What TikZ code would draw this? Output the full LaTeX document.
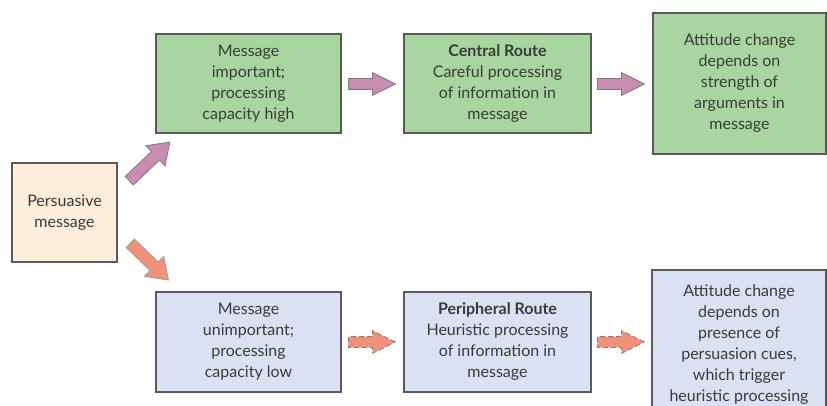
\documentclass[tikz,border=0pt]{standalone}
\usepackage{fontspec}
\setmainfont{Lato}
\usetikzlibrary{shapes.arrows}
\definecolor{boxgreen}{HTML}{A9D5A0}
\definecolor{boxblue}{HTML}{D9E1F2}
\definecolor{boxcream}{HTML}{FDEEDC}
\definecolor{arrpink}{HTML}{C98DB2}
\definecolor{arrorange}{HTML}{F2917A}
\definecolor{edgegray}{HTML}{5A5A5A}
\definecolor{txtgray}{HTML}{3A3A3A}
\tikzset{
  box/.style={draw=edgegray, line width=1.1pt, align=center, inner sep=0pt,
    text=txtgray, font=\fontsize{16pt}{21pt}\selectfont},
  greenbox/.style={box, fill=boxgreen},
  bluebox/.style={box, fill=boxblue},
  creambox/.style={box, fill=boxcream},
  barrow/.style={single arrow, draw=edgegray!80, line width=0.8pt,
    inner xsep=0pt, inner ysep=5pt, anchor=tail,
    minimum height=47pt, minimum width=22pt, single arrow head extend=6pt,
    single arrow tip angle=53},
  darrow/.style={single arrow, draw=edgegray!80, line width=0.8pt,
    inner xsep=0pt, inner ysep=5.5pt, anchor=tail,
    minimum height=56pt, minimum width=27pt, single arrow head extend=8pt,
    single arrow tip angle=70},
  pinkarrow/.style={fill=arrpink},
  orangearrow/.style={fill=arrorange, draw=gray, dashed, dash pattern=on 5pt off 3pt},
}
\begin{document}
\begin{tikzpicture}[x=1pt, y=-1pt]
\useasboundingbox (0,0) rectangle (827,406);
\fill[white] (0,0) rectangle (827,406);
\clip (0,0) rectangle (827,406);
% boxes
\node[creambox, minimum width=105pt, minimum height=99pt] (pm) at (64.5,212.5)
  {Persuasive\\message};
\node[greenbox, minimum width=185pt, minimum height=99pt] (mi) at (248.5,83.5)
  {Message\\important;\\processing\\capacity high};
\node[greenbox, minimum width=187pt, minimum height=99pt] (cr) at (497.5,83.5)
  {\textbf{Central Route}\\Careful processing\\of information in\\message};
\node[greenbox, minimum width=173pt, minimum height=141pt] (at) at (739.5,83.5)
  {Attitude change\\depends on\\strength of\\arguments in\\message};
\node[bluebox, minimum width=185pt, minimum height=100pt] (mu) at (248.5,342)
  {Message\\unimportant;\\processing\\capacity low};
\node[bluebox, minimum width=187pt, minimum height=100pt] (pr) at (497.5,342)
  {\textbf{Peripheral Route}\\Heuristic processing\\of information in\\message};
\node[bluebox, minimum width=174pt, minimum height=150pt] (ab) at (739,345)
  {Attitude change\\depends on\\presence of\\persuasion cues,\\which trigger\\heuristic processing};
% arrows
\node[barrow, pinkarrow] (a1) at (348,84) {};
\node[barrow, pinkarrow] (a2) at (597,84) {};
\node[barrow, orangearrow] (a3) at (348,342) {};
\node[barrow, orangearrow] (a4) at (597,342) {};
\node[darrow, pinkarrow, rotate=43.6] (d1) at (129,181) {};
\node[darrow, fill=arrorange, draw=edgegray!60, rotate=-44, minimum height=53pt] (d2) at (130,243) {};
\end{tikzpicture}
\end{document}
